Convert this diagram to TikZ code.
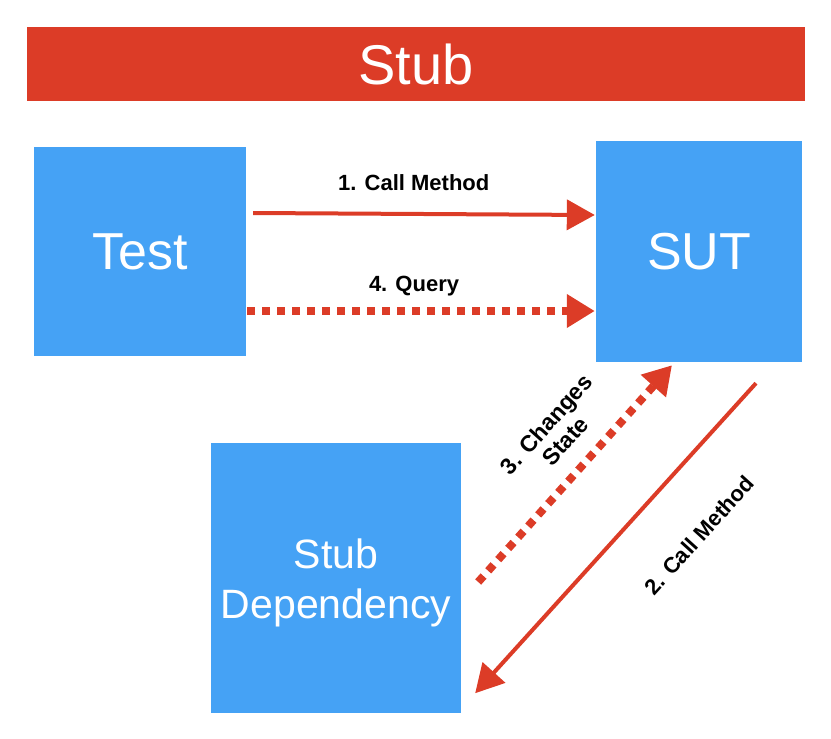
\documentclass[tikz,border=0pt]{standalone}
\usepackage{fontspec}
\setmainfont{Liberation Sans}
\usetikzlibrary{arrows.meta}
\definecolor{boxblue}{HTML}{45A2F5}
\definecolor{stubred}{HTML}{DC3C27}
\tikzset{
  bluebox/.style={fill=boxblue, draw=none, text=white, inner sep=0pt},
  solidarrow/.style={draw=stubred, line width=4pt, -{Triangle[length=28pt,width=30pt]}},
  dotarrow/.style={draw=stubred, line width=8pt, dash pattern=on 8pt off 7pt, -{Triangle[length=28pt,width=32pt]}},
  lbl/.style={font=\fontsize{22}{26}\selectfont\bfseries, text=black, inner sep=0pt, align=center}
}
\begin{document}
\begin{tikzpicture}[x=1pt,y=-1pt]
\useasboundingbox (0,0) rectangle (831,739);
\node[fill=stubred, text=white, minimum width=778pt, minimum height=74pt, inner sep=0pt, font=\fontsize{56}{60}\selectfont] (banner) at (416,64) {Stub};
\node[bluebox, minimum width=212pt, minimum height=209pt, font=\fontsize{52}{56}\selectfont] (test) at (140,251.5) {Test};
\node[bluebox, minimum width=206pt, minimum height=221pt, font=\fontsize{52}{56}\selectfont] (sut) at (699,251.5) {SUT};
\node[bluebox, minimum width=250pt, minimum height=270pt,
  label={[text=white, align=center, inner sep=0pt, yshift=-5pt, font=\fontsize{41}{50}\selectfont]center:{Stub\\Dependency}}] (dep) at (336,578) {};
% 1. Call Method
\draw[solidarrow] ([xshift=7pt,yshift=38.5pt]test.east) -- node[lbl, pos=0.47, above=21pt] {1. Call Method} ([xshift=-1pt,yshift=36.5pt]sut.west);
% 4. Query
\draw[dotarrow] ([xshift=1pt,yshift=-59.5pt]test.east) -- node[lbl, pos=0.48, above=11pt] {4. Query} ([xshift=-1pt,yshift=-59.5pt]sut.west);
% 3. Changes State
\draw[dotarrow] ([xshift=17pt,yshift=-4pt]dep.east) -- node[lbl, sloped, pos=0.56, above=17pt, font=\fontsize{23}{25}\selectfont\bfseries] {3. Changes\\State} ([xshift=-27pt,yshift=-3pt]sut.south);
% 2. Call Method
\draw[solidarrow] ([xshift=57pt,yshift=-21pt]sut.south) -- node[lbl, sloped, pos=0.36, below=50pt] {2. Call Method} ([xshift=14pt,yshift=20pt]dep.south east);
\end{tikzpicture}
\end{document}
